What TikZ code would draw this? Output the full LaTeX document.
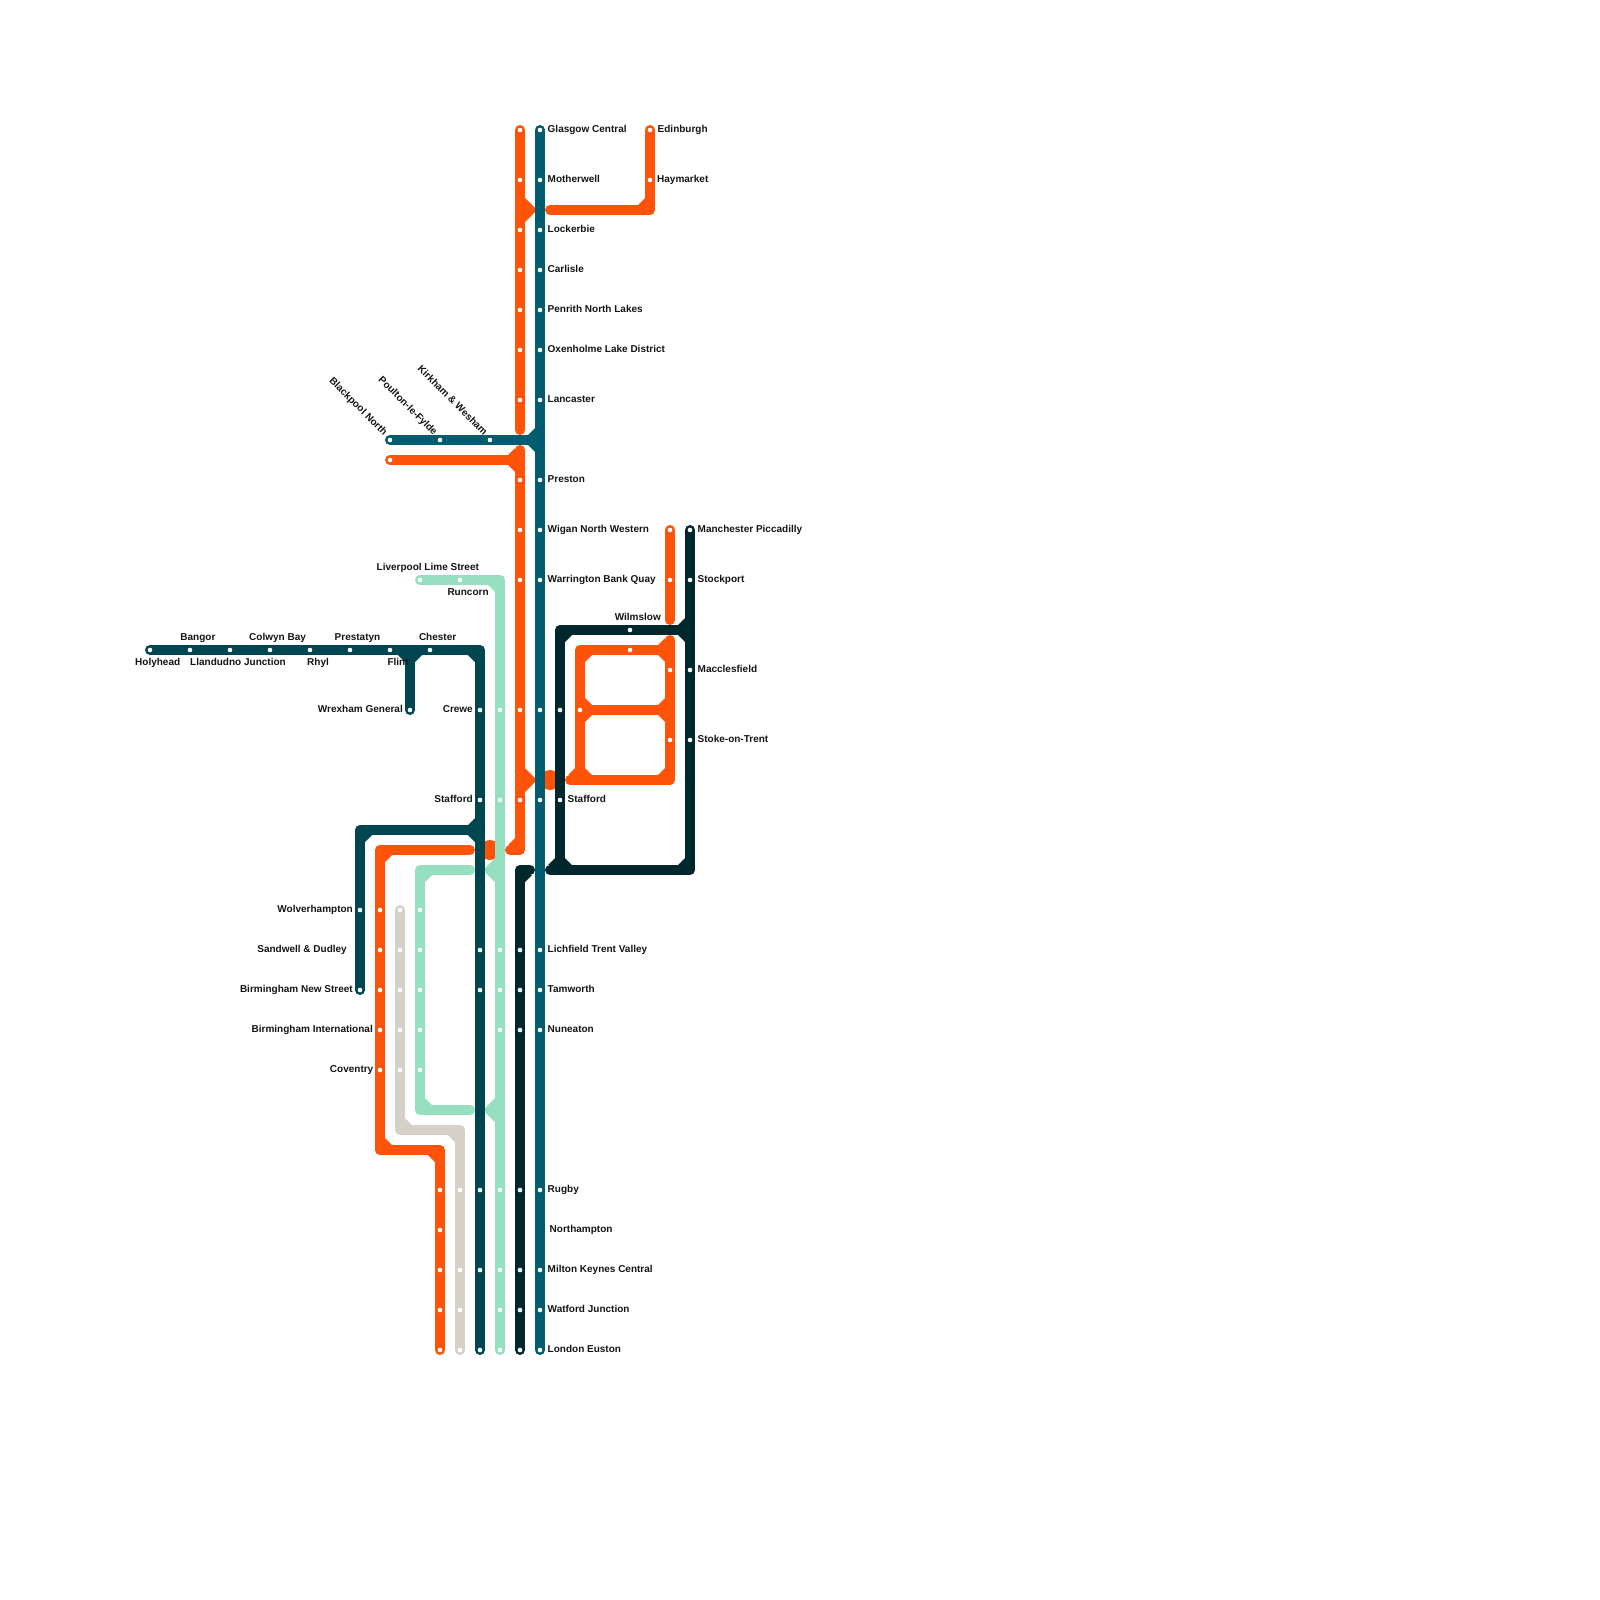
\documentclass[tikz,border=0pt]{standalone}
\usepackage{fontspec}
\setmainfont{Liberation Sans}
\usetikzlibrary{backgrounds}
\definecolor{lineteal}{HTML}{005C6E}
\definecolor{linepetrol}{HTML}{004651}
\definecolor{linedark}{HTML}{00282C}
\definecolor{lineorange}{HTML}{FF5309}
\definecolor{linemint}{HTML}{96E0C0}
\definecolor{linegrey}{HTML}{D5D0C8}
\definecolor{inktext}{HTML}{141414}

\begin{document}
\begin{tikzpicture}[x=1pt,y=-1pt,
	every node/.style={font=\fontsize{10}{12}\selectfont\bfseries, text=inktext, inner sep=0pt},
	stop/.style={circle, fill=white, minimum size=4.6pt},
	route/.style={line width=10pt, line cap=round, line join=round},
	toright/.style={anchor=base west},
	toleft/.style={anchor=base east},
	slanted/.style={anchor=base east, rotate=-45}]
	\useasboundingbox (0,0) rectangle (1600,1600);
	% stops on the vertical runs
	\foreach \y [count=\i] in {130,180,230,270,310,350,400,480,530,580,710,800,950,990,1030,1190,1270,1310,1350} {\node[stop] (tm\i) at (540,\y) {};}
	\foreach \y [count=\i] in {130,180,230,270,310,350,400} {\node[stop] (oa\i) at (520,\y) {};}
	\foreach \y [count=\i] in {480,530,580,710,800} {\node[stop] (ob\i) at (520,\y) {};}
	\foreach \y [count=\i] in {710,800,950,990,1190,1270,1350} {\node[stop] (pt\i) at (480,\y) {};}
	\foreach \y [count=\i] in {710,800,950,990,1030,1190,1270,1310,1350} {\node[stop] (mt\i) at (500,\y) {};}
	\foreach \y [count=\i] in {950,990,1030,1190,1270,1310,1350} {\node[stop] (dv\i) at (520,\y) {};}
	\foreach \y [count=\i] in {910,950,990,1030,1070} {
		\node[stop] (op\i) at (380,\y) {};
		\node[stop] (gp\i) at (400,\y) {};
		\node[stop] (mp\i) at (420,\y) {};
	}
	\foreach \y [count=\i] in {1190,1230,1270,1310,1350} {\node[stop] (oq\i) at (440,\y) {};}
	\foreach \y [count=\i] in {1190,1270,1310,1350} {\node[stop] (gq\i) at (460,\y) {};}
	\foreach \y [count=\i] in {530,580,670,740} {\node[stop] (dl\i) at (690,\y) {};}
	% stops on the horizontal runs
	\foreach \x [count=\i] in {150,190,...,430} {\node[stop] (pr\i) at (\x,650) {};}
	\foreach \x [count=\i] in {390,440,490} {\node[stop] (te\i) at (\x,440) {};}
	\node[stop] (pw) at (410,710) {};
	\node[stop] (pv1) at (360,910) {};
	\node[stop] (pv2) at (360,990) {};
	\node[stop] (oc1) at (390,460) {};
	\node[stop] (oe1) at (650,130) {};
	\node[stop] (oe2) at (650,180) {};
	\node[stop] (ol1) at (670,530) {};
	\node[stop] (ol2) at (670,580) {};
	\node[stop] (om1) at (670,670) {};
	\node[stop] (om2) at (670,740) {};
	\node[stop] (om3) at (630,650) {};
	\node[stop] (om4) at (580,710) {};
	\node[stop] (ms1) at (420,580) {};
	\node[stop] (ms2) at (460,580) {};
	\node[stop] (dw) at (630,630) {};
	\node[stop] (dx1) at (560,710) {};
	\node[stop] (dx2) at (560,800) {};
	% turning points and free line ends
	\coordinate (tmj) at (540,440);
	\coordinate (oatop) at (520,430);
	\coordinate (obtop) at (520,450);
	\coordinate (ocj) at (520,460);
	\coordinate (obbot) at (520,850);
	\coordinate (obend) at (510,850);
	\coordinate (oes) at (550,210);
	\coordinate (oej) at (650,210);
	\coordinate (olb) at (670,620);
	\coordinate (oltop) at (670,640);
	\coordinate (olc) at (670,780);
	\coordinate (old) at (570,780);
	\coordinate (ops) at (470,850);
	\coordinate (opa) at (380,1150);
	\coordinate (opb) at (440,1150);
	\coordinate (gpa) at (400,1130);
	\coordinate (gpb) at (460,1130);
	\coordinate (mps) at (470,870);
	\coordinate (mpe) at (470,1110);
	\coordinate (mpa) at (420,1110);
	\coordinate (msc) at (500,580);
	\coordinate (prc) at (480,650);
	\coordinate (prw) at (410,650);
	\coordinate (pva) at (480,830);
	\coordinate (pvb) at (360,830);
	\coordinate (dva) at (530,870);
	\coordinate (dvb) at (520,870);
	\coordinate (dlb) at (690,870);
	\coordinate (dlc) at (550,870);
	\coordinate (dlt) at (690,630);
	\coordinate (dlu) at (560,630);
	\begin{scope}[on background layer]
		% orange pieces that the other lines cut
		\fill[lineorange] (490,850) circle (10);
		\fill[lineorange] (550,780) circle (10);
		% mint
		\fill[linemint] (495,858) -- (483,870) -- (495,882) -- cycle;
		\fill[linemint] (495,1098) -- (483,1110) -- (495,1122) -- cycle;
		\draw[route, linemint] (ms1.center) -- (msc) -- (mt9.center);
		\draw[route, linemint] (mps) -| (mp1.center) -- (mpa) -- (mpe);
		\foreach \x/\y/\dx/\dy in {495/585/-1/1,425/875/1/1,425/1105/1/-1} {\fill[linemint] (\x,\y) -- ++(7*\dx,0) -- ++(-7*\dx,7*\dy) -- cycle;}
		% grey
		\draw[route, linegrey] (gp1.center) -- (gpa) -- (gpb) -- (gq4.center);
		\foreach \x/\y/\dx/\dy in {405/1125/1/-1,455/1135/-1/1} {\fill[linegrey] (\x,\y) -- ++(7*\dx,0) -- ++(-7*\dx,7*\dy) -- cycle;}
		% orange
		\fill[lineorange] (525,198) -- (537,210) -- (525,222) -- cycle;
		\fill[lineorange] (525,768) -- (537,780) -- (525,792) -- cycle;
		\draw[route, lineorange] (oa1.center) -- (oatop);
		\draw[route, lineorange] (obtop) -- (obbot) -- (obend);
		\draw[route, lineorange] (oc1.center) -- (ocj);
		\draw[route, lineorange] (oe1.center) -- (oej) -- (oes);
		\draw[route, lineorange] (ol1.center) -- (olb);
		\draw[route, lineorange] (oltop) -- (olc) -- (old);
		\draw[route, lineorange] (olc |- om3.center) -- (om3.center -| om4.center) -- (old -| om4.center);
		\draw[route, lineorange] (om4.center) -- (olc |- om4.center);
		\draw[route, lineorange] (ops) -| (op1.center) -- (opa) -- (opb) -- (oq5.center);
		\foreach \x/\y/\dx/\dy in {645/205/-1/-1,515/455/-1/-1,515/465/-1/1,515/845/-1/-1,575/775/-1/-1,585/775/1/-1,665/775/-1/-1,585/715/1/1,585/705/1/-1,665/705/-1/-1,665/715/-1/1,585/655/1/1,665/655/-1/1,665/645/-1/-1,385/855/1/1,385/1145/1/-1,435/1155/-1/1} {\fill[lineorange] (\x,\y) -- ++(7*\dx,0) -- ++(-7*\dx,7*\dy) -- cycle;}
		% petrol
		\draw[route, linepetrol] (pr1.center) -- (prc) -- (pt7.center);
		\draw[route, linepetrol] (prw) -- (pw.center);
		\draw[route, linepetrol] (pva) -- (pvb) -- (pv2.center);
		\foreach \x/\y/\dx/\dy in {405/655/-1/1,415/655/1/1,475/655/-1/1,475/825/-1/-1,475/835/-1/1,365/835/1/1} {\fill[linepetrol] (\x,\y) -- ++(7*\dx,0) -- ++(-7*\dx,7*\dy) -- cycle;}
		% dark
		\draw[route, linedark] (dl1.center) -- (dlb) -- (dlc);
		\draw[route, linedark] (dlt) -- (dlu) -- (dlu |- dlb);
		\draw[route, linedark] (dva) -- (dvb) -- (dv7.center);
		\foreach \x/\y/\dx/\dy in {685/625/-1/-1,685/635/-1/1,565/635/1/1,555/865/-1/-1,565/865/1/-1,685/865/-1/-1,525/875/1/1} {\fill[linedark] (\x,\y) -- ++(7*\dx,0) -- ++(-7*\dx,7*\dy) -- cycle;}
		% teal
		\draw[route, lineteal] (tm1.center) -- (tm19.center);
		\draw[route, lineteal] (te1.center) -- (tmj);
		\foreach \x/\y/\dx/\dy in {535/435/-1/-1,535/445/-1/1} {\fill[lineteal] (\x,\y) -- ++(7*\dx,0) -- ++(-7*\dx,7*\dy) -- cycle;}
	\end{scope}
	% labels
	\foreach \y/\t [count=\i] in {130/Glasgow Central,180/Motherwell,230/Lockerbie,270/Carlisle,310/Penrith North Lakes,350/Oxenholme Lake District,400/Lancaster,480/Preston,530/Wigan North Western,580/Warrington Bank Quay,950/Lichfield Trent Valley,990/Tamworth,1030/Nuneaton,1190/Rugby,1270/Milton Keynes Central,1310/Watford Junction,1350/London Euston} {\node[toright] (lbm\i) at (547.5,\y+2) {\t};}
	\node[toright] (lbn) at (549.5,1232) {Northampton};
	\node[toright] (lbs) at (567.5,802) {Stafford};
	\node[toright] (lbe) at (657.5,132) {Edinburgh};
	\node[toright] (lbh) at (657,182) {Haymarket};
	\foreach \y/\t [count=\i] in {530/Manchester Piccadilly,580/Stockport,670/Macclesfield,740/Stoke-on-Trent} {\node[toright] (lbk\i) at (697.5,\y+2) {\t};}
	\node[toleft] (lbw) at (661,620) {Wilmslow};
	\node[toleft] (lbc) at (473,712) {Crewe};
	\node[toleft] (lbt) at (473,802) {Stafford};
	\node[toleft] (lbg) at (403,712) {Wrexham General};
	\node[toleft] (lbv) at (353,912) {Wolverhampton};
	\node[toleft] (lbd) at (347,952) {Sandwell \& Dudley};
	\node[toleft] (lbb) at (353,992) {Birmingham New Street};
	\node[toleft] (lbi) at (373,1032) {Birmingham International};
	\node[toleft] (lbo) at (373.5,1072) {Coventry};
	\foreach \x/\t [count=\i] in {180.2/Bangor,249/Colwyn Bay,334.5/Prestatyn,418.8/Chester} {\node[toright] (lbu\i) at (\x,640) {\t};}
	\foreach \x/\t [count=\i] in {135/Holyhead,190/Llandudno Junction,307/Rhyl,387.3/Flint} {\node[toright] (lbl\i) at (\x,665) {\t};}
	\node[toright] (lbq) at (376.5,570) {Liverpool Lime Street};
	\node[toright] (lbr) at (447.3,595) {Runcorn};
	\node[slanted] (lbx) at (383.5,436) {Blackpool North};
	\node[slanted] (lby) at (433.5,436) {Poulton-le-Fylde};
	\node[slanted] (lbz) at (483.5,436) {Kirkham \& Wesham};
\end{tikzpicture}
\end{document}
